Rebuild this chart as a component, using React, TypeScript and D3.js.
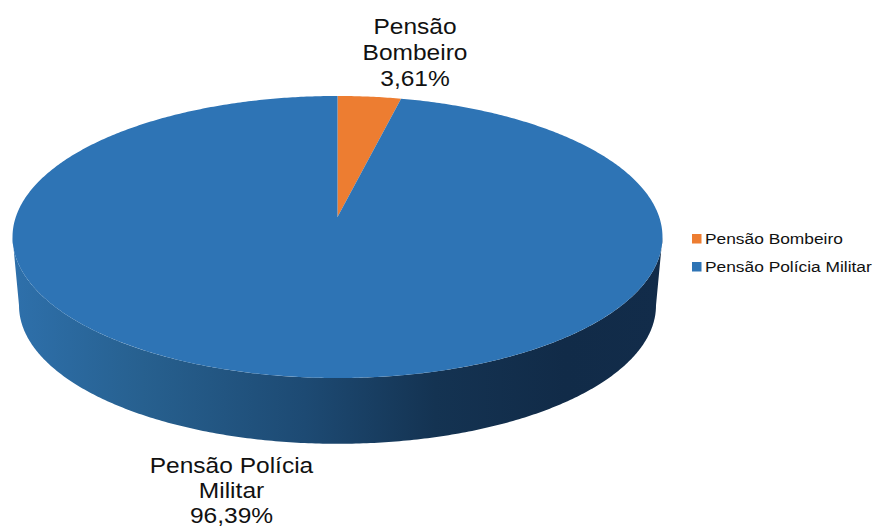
import React from "react";
import * as d3 from "d3";

const categories = ["Pensão Bombeiro", "Pensão Polícia Militar"];
const values = [3.61, 96.39];
const colors = ["#ed7d31", "#2e74b5"];
const labelLines = [
  ["Pensão", "Bombeiro", "3,61%"],
  ["Pensão Polícia", "Militar", "96,39%"],
];
const wallStops = [
  [0, "#2e70ab"],
  [0.2, "#27608f"],
  [0.45, "#1d4a73"],
  [0.65, "#143352"],
  [0.85, "#112b48"],
  [1, "#122c4a"],
];

const W = 876;
const H = 528;
const cx = 337.5;
const cy = 217;
const A = 321.7;
const B = 138.2;
const K = 0.1418;
const wallShrink = 0.98;
const wallDrop = 69;

type P = [number, number];
const project = (t: number): P => {
  const w = 1 + K * Math.cos(t);
  return [cx + (A * Math.sin(t)) / w, cy - (B * Math.cos(t)) / w];
};
const projectLow = (t: number): P => {
  const [x, y] = project(t);
  return [cx + (x - cx) * wallShrink, cy + (y - cy) * wallShrink + wallDrop];
};

const line = d3.line<P>();
const arcs = d3.pie<number>().sort(null)(values);
const sweep = (a: number, b: number, f: (t: number) => P = project) => {
  const n = Math.max(2, Math.ceil(Math.abs(b - a) / 0.01));
  return d3.range(n + 1).map((i) => f(a + ((b - a) * i) / n));
};

const tExtreme = Math.acos(-K);
const wallPts: P[] = [
  ...sweep(tExtreme, 2 * Math.PI - tExtreme),
  ...sweep(2 * Math.PI - tExtreme, tExtreme, projectLow),
];

const fontFamily = "'Liberation Sans', Arial, sans-serif";
const labelAnchors: P[] = [[415, 33.5], [231.5, 473]];
const lineSteps = [26, 25];
const legendY = [239, 267];

function Stretched(props: { x: number; y: number; size: number; sx: number; anchor?: string; children: React.ReactNode }) {
  const { x, y, size, sx, anchor = "start", children } = props;
  return (
    <text
      transform={`translate(${x},${y}) scale(${sx},1)`}
      textAnchor={anchor}
      fontFamily={fontFamily}
      fontSize={size}
      fill="#111"
    >
      {children}
    </text>
  );
}

export default function App() {
  return (
    <svg width={W} height={H} style={{ position: "absolute", left: 0, top: 0, background: "#fff" }}>
      <defs>
        <linearGradient id="wall" gradientUnits="userSpaceOnUse" x1={13} x2={662} y1={0} y2={0}>
          {wallStops.map(([o, c]) => (
            <stop key={String(o)} offset={o as number} stopColor={c as string} />
          ))}
        </linearGradient>
      </defs>
      <path d={line(wallPts) + "Z"} fill="url(#wall)" />
      {arcs.map((a, i) => (
        <path
          key={categories[i]}
          d={line([[cx, cy], ...sweep(a.startAngle, a.endAngle)]) + "Z"}
          fill={colors[i]}
        />
      ))}
      {labelLines.map((ls, i) =>
        ls.map((s, j) => (
          <Stretched key={s} x={labelAnchors[i][0]} y={labelAnchors[i][1] + j * lineSteps[i]} size={22} sx={1.115} anchor="middle">
            {s}
          </Stretched>
        ))
      )}
      {categories.map((c, i) => (
        <g key={c}>
          <rect x={692} y={legendY[i] - 5} width={9.5} height={9.5} fill={colors[i]} />
          <Stretched x={705} y={legendY[i] + 4.5} size={15.5} sx={1.12}>
            {c}
          </Stretched>
        </g>
      ))}
    </svg>
  );
}
